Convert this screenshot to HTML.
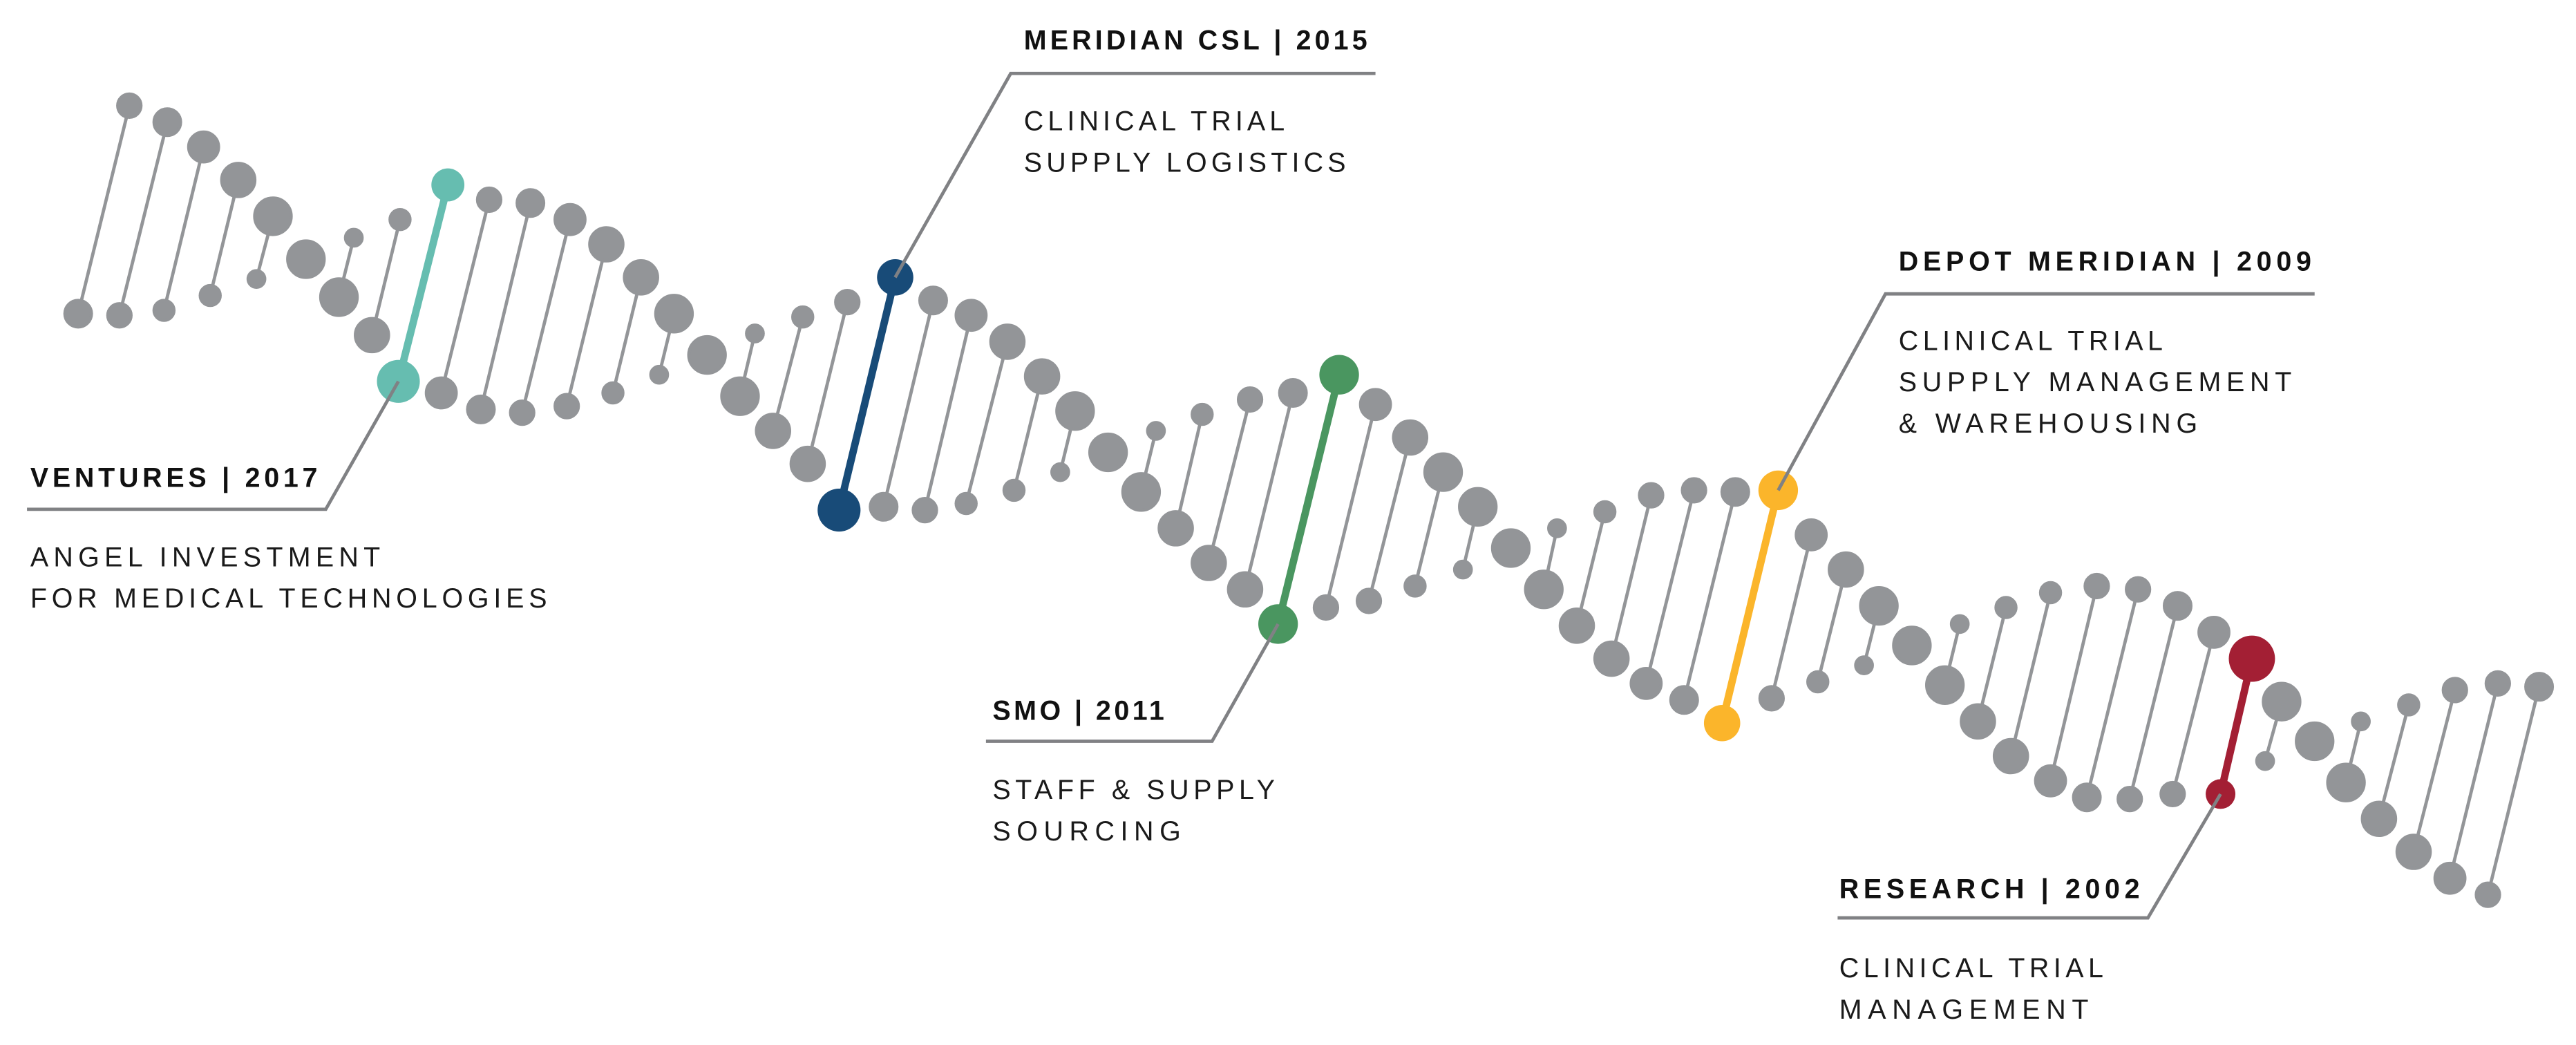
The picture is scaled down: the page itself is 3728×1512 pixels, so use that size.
<!DOCTYPE html>
<html><head><meta charset="utf-8"><style>
html,body{margin:0;padding:0;background:#fff;}
svg{display:block;}
.t{font-family:"Liberation Sans",sans-serif;font-weight:bold;font-size:16.5px;fill:#111;}
.b{font-family:"Liberation Sans",sans-serif;font-size:16.5px;fill:#1a1a1a;}
</style></head><body>
<svg width="3728" height="1512" viewBox="0 0 1560 633" xmlns="http://www.w3.org/2000/svg">
<g stroke="#939598" stroke-width="2" fill="#939598">
<line x1="47" y1="190" x2="78" y2="64"/><circle cx="78" cy="64" r="7"/><circle cx="47" cy="190" r="8"/>
<line x1="72" y1="191" x2="101" y2="74"/><circle cx="101" cy="74" r="8"/><circle cx="72" cy="191" r="7"/>
<line x1="99" y1="188" x2="123" y2="89"/><circle cx="123" cy="89" r="9"/><circle cx="99" cy="188" r="6"/>
<line x1="127" y1="179" x2="144" y2="109"/><circle cx="144" cy="109" r="10"/><circle cx="127" cy="179" r="6"/>
<line x1="155" y1="169" x2="165" y2="131"/><circle cx="165" cy="131" r="11"/><circle cx="155" cy="169" r="5"/>
<circle cx="185" cy="157" r="11"/>
<line x1="205" y1="180" x2="214" y2="144"/><circle cx="214" cy="144" r="5"/><circle cx="205" cy="180" r="11"/>
<line x1="225" y1="203" x2="242" y2="133"/><circle cx="242" cy="133" r="6"/><circle cx="225" cy="203" r="10"/>
<line x1="267" y1="238" x2="296" y2="121"/><circle cx="296" cy="121" r="7"/><circle cx="267" cy="238" r="9"/>
<line x1="291" y1="248" x2="321" y2="123"/><circle cx="321" cy="123" r="8"/><circle cx="291" cy="248" r="8"/>
<line x1="316" y1="250" x2="345" y2="133"/><circle cx="345" cy="133" r="9"/><circle cx="316" cy="250" r="7"/>
<line x1="343" y1="246" x2="367" y2="148"/><circle cx="367" cy="148" r="10"/><circle cx="343" cy="246" r="7"/>
<line x1="371" y1="238" x2="388" y2="168"/><circle cx="388" cy="168" r="10"/><circle cx="371" cy="238" r="6"/>
<line x1="399" y1="227" x2="408" y2="190"/><circle cx="408" cy="190" r="11"/><circle cx="399" cy="227" r="5"/>
<circle cx="428" cy="215" r="11"/>
<line x1="448" y1="240" x2="457" y2="202"/><circle cx="457" cy="202" r="5"/><circle cx="448" cy="240" r="11"/>
<line x1="468" y1="261" x2="486" y2="192"/><circle cx="486" cy="192" r="6"/><circle cx="468" cy="261" r="10"/>
<line x1="489" y1="281" x2="513" y2="183"/><circle cx="513" cy="183" r="7"/><circle cx="489" cy="281" r="10"/>
<line x1="535" y1="307" x2="565" y2="182"/><circle cx="565" cy="182" r="8"/><circle cx="535" cy="307" r="8"/>
<line x1="560" y1="309" x2="588" y2="191"/><circle cx="588" cy="191" r="9"/><circle cx="560" cy="309" r="7"/>
<line x1="585" y1="305" x2="610" y2="207"/><circle cx="610" cy="207" r="10"/><circle cx="585" cy="305" r="6"/>
<line x1="614" y1="297" x2="631" y2="228"/><circle cx="631" cy="228" r="10"/><circle cx="614" cy="297" r="6"/>
<line x1="642" y1="286" x2="651" y2="249"/><circle cx="651" cy="249" r="11"/><circle cx="642" cy="286" r="5"/>
<circle cx="671" cy="274" r="11"/>
<line x1="691" y1="298" x2="700" y2="261"/><circle cx="700" cy="261" r="5"/><circle cx="691" cy="298" r="11"/>
<line x1="712" y1="320" x2="728" y2="251"/><circle cx="728" cy="251" r="6"/><circle cx="712" cy="320" r="10"/>
<line x1="732" y1="341" x2="757" y2="242"/><circle cx="757" cy="242" r="7"/><circle cx="732" cy="341" r="10"/>
<line x1="754" y1="357" x2="783" y2="238"/><circle cx="783" cy="238" r="8"/><circle cx="754" cy="357" r="10"/>
<line x1="803" y1="368" x2="833" y2="245"/><circle cx="833" cy="245" r="9"/><circle cx="803" cy="368" r="7"/>
<line x1="829" y1="364" x2="854" y2="265"/><circle cx="854" cy="265" r="10"/><circle cx="829" cy="364" r="7"/>
<line x1="857" y1="355" x2="874" y2="286"/><circle cx="874" cy="286" r="11"/><circle cx="857" cy="355" r="6"/>
<line x1="886" y1="345" x2="895" y2="307"/><circle cx="895" cy="307" r="11"/><circle cx="886" cy="345" r="5"/>
<circle cx="915" cy="332" r="11"/>
<line x1="935" y1="357" x2="943" y2="320"/><circle cx="943" cy="320" r="5"/><circle cx="935" cy="357" r="11"/>
<line x1="955" y1="379" x2="972" y2="310"/><circle cx="972" cy="310" r="6"/><circle cx="955" cy="379" r="10"/>
<line x1="976" y1="399" x2="1000" y2="300"/><circle cx="1000" cy="300" r="7"/><circle cx="976" cy="399" r="10"/>
<line x1="997" y1="414" x2="1026" y2="297"/><circle cx="1026" cy="297" r="7"/><circle cx="997" cy="414" r="9"/>
<line x1="1020" y1="424" x2="1051" y2="298"/><circle cx="1051" cy="298" r="8"/><circle cx="1020" cy="424" r="8"/>
<line x1="1073" y1="423" x2="1097" y2="324"/><circle cx="1097" cy="324" r="9"/><circle cx="1073" cy="423" r="7"/>
<line x1="1101" y1="413" x2="1118" y2="345"/><circle cx="1118" cy="345" r="10"/><circle cx="1101" cy="413" r="6"/>
<line x1="1129" y1="403" x2="1138" y2="367"/><circle cx="1138" cy="367" r="11"/><circle cx="1129" cy="403" r="5"/>
<circle cx="1158" cy="391" r="11"/>
<line x1="1178" y1="415" x2="1187" y2="378"/><circle cx="1187" cy="378" r="5"/><circle cx="1178" cy="415" r="11"/>
<line x1="1198" y1="437" x2="1215" y2="368"/><circle cx="1215" cy="368" r="6"/><circle cx="1198" cy="437" r="10"/>
<line x1="1218" y1="458" x2="1242" y2="359"/><circle cx="1242" cy="359" r="6"/><circle cx="1218" cy="458" r="10"/>
<line x1="1242" y1="473" x2="1270" y2="355"/><circle cx="1270" cy="355" r="7"/><circle cx="1242" cy="473" r="9"/>
<line x1="1264" y1="483" x2="1295" y2="357"/><circle cx="1295" cy="357" r="7"/><circle cx="1264" cy="483" r="8"/>
<line x1="1290" y1="484" x2="1319" y2="367"/><circle cx="1319" cy="367" r="8"/><circle cx="1290" cy="484" r="7"/>
<line x1="1316" y1="481" x2="1341" y2="383"/><circle cx="1341" cy="383" r="9"/><circle cx="1316" cy="481" r="7"/>
<line x1="1372" y1="461" x2="1382" y2="425"/><circle cx="1382" cy="425" r="11"/><circle cx="1372" cy="461" r="5"/>
<circle cx="1402" cy="449" r="11"/>
<line x1="1421" y1="474" x2="1430" y2="437"/><circle cx="1430" cy="437" r="5"/><circle cx="1421" cy="474" r="11"/>
<line x1="1441" y1="496" x2="1459" y2="427"/><circle cx="1459" cy="427" r="6"/><circle cx="1441" cy="496" r="10"/>
<line x1="1462" y1="516" x2="1487" y2="418"/><circle cx="1487" cy="418" r="7"/><circle cx="1462" cy="516" r="10"/>
<line x1="1484" y1="532" x2="1513" y2="414"/><circle cx="1513" cy="414" r="7"/><circle cx="1484" cy="532" r="9"/>
<line x1="1507" y1="542" x2="1538" y2="416"/><circle cx="1538" cy="416" r="8"/><circle cx="1507" cy="542" r="7"/>
</g>
<!-- colored rungs -->
<g stroke-width="4.5">
<line x1="241" y1="231" x2="271" y2="112" stroke="#66bdb0"/><circle cx="271" cy="112" r="10" fill="#66bdb0"/><circle cx="241" cy="231" r="13" fill="#66bdb0"/>
<line x1="508" y1="309" x2="542" y2="168" stroke="#184b78"/><circle cx="542" cy="168" r="11" fill="#184b78"/><circle cx="508" cy="309" r="13" fill="#184b78"/>
<line x1="774" y1="378" x2="811" y2="227" stroke="#4a9660"/><circle cx="811" cy="227" r="12" fill="#4a9660"/><circle cx="774" cy="378" r="12" fill="#4a9660"/>
<line x1="1043" y1="438" x2="1077" y2="297" stroke="#fbb52b"/><circle cx="1077" cy="297" r="12" fill="#fbb52b"/><circle cx="1043" cy="438" r="11" fill="#fbb52b"/>
<line x1="1345" y1="481" x2="1364" y2="399" stroke="#a31f34"/><circle cx="1364" cy="399" r="14" fill="#a31f34"/><circle cx="1345" cy="481" r="9" fill="#a31f34"/>
</g>
<!-- label connectors -->
<g stroke="#808184" stroke-width="2" fill="none">
<polyline points="833,44.5 612,44.5 542,168"/>
<polyline points="16,308.5 197,308.5 241,231"/>
<polyline points="597,449 734,449 774,378"/>
<polyline points="1402,178 1142,178 1077,297"/>
<polyline points="1113,556 1301,556 1345,481"/>
</g>
<!-- labels -->
<text class="t" x="620" y="30" textLength="208" lengthAdjust="spacing">MERIDIAN CSL | 2015</text>
<text class="b" x="620" y="79" textLength="158" lengthAdjust="spacing">CLINICAL TRIAL</text>
<text class="b" x="620" y="104" textLength="195" lengthAdjust="spacing">SUPPLY LOGISTICS</text>

<text class="t" x="18" y="295" textLength="174" lengthAdjust="spacing">VENTURES | 2017</text>
<text class="b" x="18" y="343" textLength="212" lengthAdjust="spacing">ANGEL INVESTMENT</text>
<text class="b" x="18" y="368" textLength="313" lengthAdjust="spacing">FOR MEDICAL TECHNOLOGIES</text>

<text class="t" x="601" y="436" textLength="104" lengthAdjust="spacing">SMO | 2011</text>
<text class="b" x="601" y="484" textLength="171" lengthAdjust="spacing">STAFF &amp; SUPPLY</text>
<text class="b" x="601" y="509" textLength="114" lengthAdjust="spacing">SOURCING</text>

<text class="t" x="1150" y="164" textLength="250" lengthAdjust="spacing">DEPOT MERIDIAN | 2009</text>
<text class="b" x="1150" y="212" textLength="160" lengthAdjust="spacing">CLINICAL TRIAL</text>
<text class="b" x="1150" y="237" textLength="238" lengthAdjust="spacing">SUPPLY MANAGEMENT</text>
<text class="b" x="1150" y="262" textLength="181" lengthAdjust="spacing">&amp; WAREHOUSING</text>

<text class="t" x="1114" y="544" textLength="182" lengthAdjust="spacing">RESEARCH | 2002</text>
<text class="b" x="1114" y="592" textLength="160" lengthAdjust="spacing">CLINICAL TRIAL</text>
<text class="b" x="1114" y="617" textLength="151" lengthAdjust="spacing">MANAGEMENT</text>
</svg>
</body></html>
